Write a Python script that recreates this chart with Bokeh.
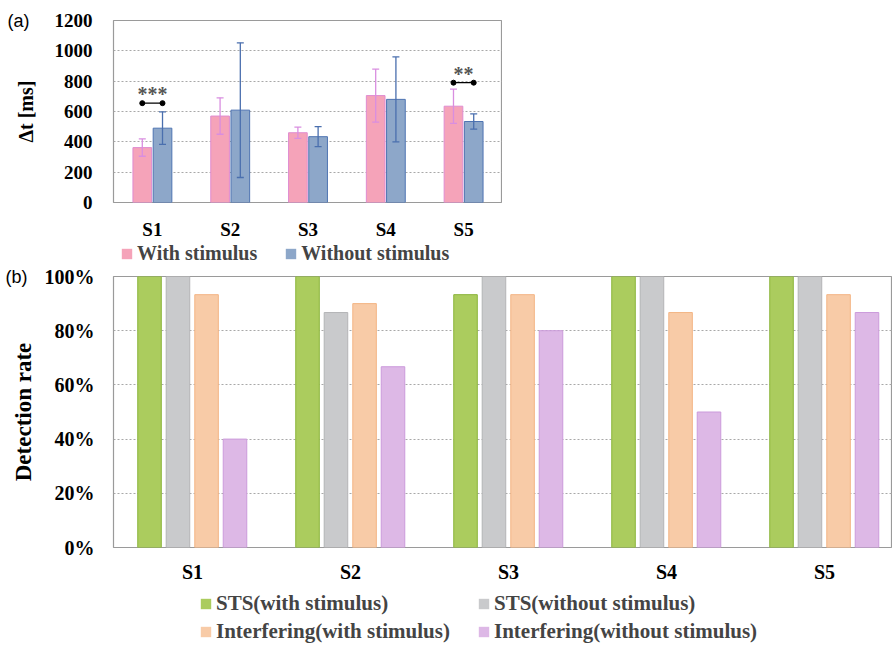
from bokeh.plotting import figure
from bokeh.models import (ColumnDataSource, FactorRange, Range1d, Whisker, TeeHead, Legend,
                          LegendItem, FixedTicker, NumeralTickFormatter, LinearAxis)
from bokeh.transform import dodge
from bokeh.layouts import column
from bokeh.core.properties import value
from bokeh.embed import file_html
from bokeh.resources import INLINE

# ---------------- data ----------------
subjects = ["S1", "S2", "S3", "S4", "S5"]

# panel (a): reaction time [ms], mean and SD
dt_with = [362, 570, 460, 705, 635]
dt_with_sd = [57, 120, 37, 175, 113]
dt_without = [490, 609, 434, 680, 534]
dt_without_sd = [107, 444, 66, 280, 50]
dt_ticks = [0, 200, 400, 600, 800, 1000, 1200]
sig_subjects = ["S1", "S5"]
sig_level = [655, 790]
sig_marks = ["***", "**"]
legend_a = ["With stimulus", "Without stimulus"]

# panel (b): detection rate
sts_with = [1.0, 1.0, 0.933, 1.0, 1.0]
sts_without = [1.0, 0.867, 1.0, 1.0, 1.0]
int_with = [0.933, 0.90, 0.933, 0.867, 0.933]
int_without = [0.40, 0.667, 0.80, 0.50, 0.867]
rate_ticks = [0, 0.2, 0.4, 0.6, 0.8, 1.0]
legend_b = ["STS(with stimulus)", "STS(without stimulus)",
            "Interfering(with stimulus)", "Interfering(without stimulus)"]
panel_tags = ["(a)", "(b)"]

SERIF = "Liberation Serif"
GRID = "#a8a8a8"
FRAME = "#9a9a9a"

col_with, edge_with, err_with = "#f5a3b9", "#e08cd0", "#d98ee0"
col_wo, edge_wo, err_wo = "#8da7c9", "#4f74b2", "#4a6fae"
styles_b = [("a", -0.272, "#abcc5e", "#8ab43a"),
            ("b", -0.092, "#c9cacc", "#b3b4b6"),
            ("c", 0.089, "#f8cba7", "#f3b585"),
            ("d", 0.269, "#ddb8e6", "#cb9adb")]


def style_axes(p, tick_size, label_size):
    for ax in p.axis:
        ax.axis_line_color = None
        ax.major_tick_line_color = None
        ax.minor_tick_line_color = None
        ax.major_tick_out = 0
        ax.major_tick_in = 0
        ax.minor_tick_out = 0
        ax.major_label_text_font = SERIF
        ax.major_label_text_font_style = "bold"
        ax.major_label_text_font_size = tick_size
        ax.major_label_text_color = "black"
        ax.axis_label_text_font = SERIF
        ax.axis_label_text_font_style = "bold"
        ax.axis_label_text_font_size = label_size
        ax.axis_label_text_color = "black"


def tag_axis(p, tick, text, standoff):
    ax = LinearAxis(ticker=FixedTicker(ticks=[tick]), major_label_overrides={tick: text},
                    axis_line_color=None, major_tick_line_color=None, minor_tick_line_color=None,
                    major_tick_out=0, major_tick_in=0, minor_tick_out=0,
                    major_label_standoff=standoff, major_label_text_font="Liberation Sans",
                    major_label_text_font_size="18px", major_label_text_color="black")
    p.add_layout(ax, "left")


def legend_fig(width, height, x_range):
    f = figure(width=width, height=height, output_backend="svg", toolbar_location=None,
               x_axis_location=None, y_axis_location=None, min_border=0,
               x_range=x_range, y_range=Range1d(0, 1))
    f.outline_line_color = None
    f.grid.grid_line_color = None
    return f


def legend_model(items, size, **kw):
    return Legend(items=items, glyph_width=13, glyph_height=13, label_standoff=4, label_height=20,
                  label_text_font=SERIF, label_text_font_style="bold", label_text_font_size=size,
                  border_line_color=None, background_fill_alpha=0, padding=0, margin=0, **kw)


# swatch renderers for the legend strips: zero-width bars, so only the legend square shows
swatch = dict(width=0, line_width=0)

# ---------------- panel (a) ----------------
src_a = ColumnDataSource(dict(
    subj=subjects,
    w=dt_with,
    w_lo=[m - s for m, s in zip(dt_with, dt_with_sd)],
    w_hi=[m + s for m, s in zip(dt_with, dt_with_sd)],
    wo=dt_without,
    wo_lo=[m - s for m, s in zip(dt_without, dt_without_sd)],
    wo_hi=[m + s for m, s in zip(dt_without, dt_without_sd)],
))

pa = figure(width=502, height=242, x_range=FactorRange(*subjects), y_range=Range1d(0, 1200),
            output_backend="svg", toolbar_location=None,
            min_border_left=113, min_border_right=0, min_border_top=20, min_border_bottom=39)
pa.outline_line_color = FRAME
pa.outline_line_width = 1.2

off_a = 0.13
pa.vbar(x=dodge("subj", -off_a, range=pa.x_range), top="w", source=src_a, width=0.24,
        fill_color=col_with, line_color=edge_with, line_width=1)
pa.vbar(x=dodge("subj", off_a, range=pa.x_range), top="wo", source=src_a, width=0.24,
        fill_color=col_wo, line_color=edge_wo, line_width=1)

for base, lo, hi, col in [(-off_a, "w_lo", "w_hi", err_with), (off_a, "wo_lo", "wo_hi", err_wo)]:
    wk = Whisker(source=src_a, base=dodge("subj", base, range=pa.x_range), lower=lo, upper=hi,
                 line_color=col, line_width=1.3, level="annotation",
                 upper_head=TeeHead(size=7, line_color=col, line_width=1.3),
                 lower_head=TeeHead(size=7, line_color=col, line_width=1.3))
    pa.add_layout(wk)

sig_src = ColumnDataSource(dict(subj=sig_subjects, y=sig_level,
                                ys=[v + 60 for v in sig_level], mark=sig_marks))
pa.segment(x0=dodge("subj", -off_a, range=pa.x_range), x1=dodge("subj", off_a, range=pa.x_range),
           y0="y", y1="y", source=sig_src, line_color="black", line_width=1.2)
for o in (-off_a, off_a):
    pa.scatter(x=dodge("subj", o, range=pa.x_range), y="y", source=sig_src, size=5,
               fill_color="black", line_color="black")
pa.text(x="subj", y="ys", text="mark", source=sig_src, text_align="center",
        text_baseline="middle", text_font=value(SERIF), text_font_style="bold",
        text_font_size="20px", text_color="#555555")

pa.xgrid.grid_line_color = None
pa.ygrid.grid_line_color = GRID
pa.ygrid.grid_line_dash = "2 2"
pa.yaxis.ticker = FixedTicker(ticks=dt_ticks)
pa.yaxis.axis_label = "Δt [ms]"
style_axes(pa, "19px", "20px")
pa.yaxis.major_label_standoff = 21
pa.yaxis.axis_label_standoff = 15
pa.xaxis.major_label_standoff = 16
tag_axis(pa, dt_ticks[-1], panel_tags[0], -18)

# legend (a)
la = legend_fig(502, 23, FactorRange(*subjects))
la_r1 = la.vbar(x="subj", top="w", source=src_a, fill_color=col_with, **swatch)
la_r2 = la.vbar(x="subj", top="wo", source=src_a, fill_color=col_wo, **swatch)
la.add_layout(legend_model([LegendItem(label=legend_a[0], renderers=[la_r1]),
                            LegendItem(label=legend_a[1], renderers=[la_r2])], "20px",
                           orientation="horizontal", location=(7, 0), spacing=27))

# ---------------- panel (b) ----------------
src_b = ColumnDataSource(dict(
    xi=list(range(len(subjects))),
    a=sts_with, b=sts_without, c=int_with, d=int_without,
))
cat_px = 158
xr_b = Range1d(-0.5, -0.5 + 779 / cat_px)
pb = figure(width=892, height=327, x_range=xr_b, y_range=Range1d(0, 1),
            output_backend="svg", toolbar_location=None,
            min_border_left=113, min_border_right=0, min_border_top=11, min_border_bottom=45)
pb.outline_line_color = FRAME
pb.outline_line_width = 1.2

for col, off, fc, lc in styles_b:
    pb.vbar(x=dodge("xi", off), top=col, width=0.149, source=src_b,
            fill_color=fc, line_color=lc, line_width=1)

pb.xgrid.grid_line_color = None
pb.ygrid.grid_line_color = GRID
pb.ygrid.grid_line_dash = "2 2"
pb.yaxis.ticker = FixedTicker(ticks=rate_ticks)
pb.yaxis.formatter = NumeralTickFormatter(format="0%")
pb.xaxis.ticker = FixedTicker(ticks=list(range(len(subjects))))
pb.xaxis.major_label_overrides = {i: s for i, s in enumerate(subjects)}
pb.yaxis.axis_label = "Detection rate"
style_axes(pb, "20px", "23px")
pb.yaxis.major_label_standoff = 19
pb.yaxis.axis_label_standoff = 6
pb.xaxis.major_label_standoff = 13
tag_axis(pb, 1, panel_tags[1], -20)

# legend (b)
lb = legend_fig(892, 54, Range1d(xr_b.start, xr_b.end))
lb_rends = [lb.vbar(x="xi", top=col, source=src_b, fill_color=fc, **swatch)
            for col, off, fc, lc in styles_b]
lb.add_layout(legend_model([LegendItem(label=lab, renderers=[r]) for lab, r in zip(legend_b, lb_rends)],
                           "21px", orientation="horizontal", ncols=2, location=(86, 2), spacing=3,
                           label_width=258))

layout = column(pa, la, pb, lb)
open("out.html", "w").write(file_html(layout, INLINE))
